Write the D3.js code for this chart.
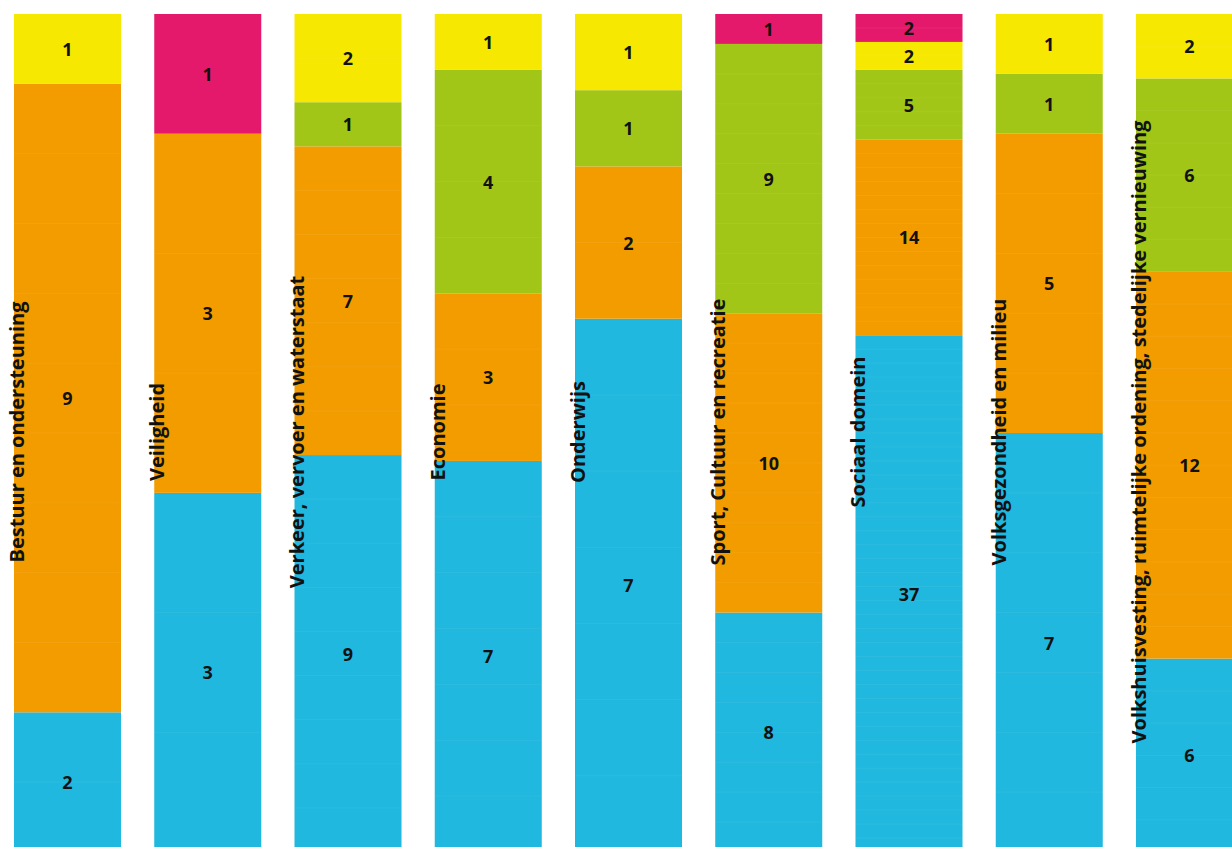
<!DOCTYPE html>
<html>
<head>
<meta charset="utf-8">
<script src="https://cdn.jsdelivr.net/npm/d3@7"></script>
<style>
  html, body { margin: 0; padding: 0; background: #fff; overflow: hidden; }
  svg { display: block; }
  text { font-family: "Open Sans", "Noto Sans", sans-serif; font-weight: 700; fill: #111; }
</style>
</head>
<body>
<svg id="chart" width="1232" height="847"></svg>
<script>
const categories = [
  "Bestuur en ondersteuning",
  "Veiligheid",
  "Verkeer, vervoer en waterstaat",
  "Economie",
  "Onderwijs",
  "Sport, Cultuur en recreatie",
  "Sociaal domein",
  "Volksgezondheid en milieu",
  "Volkshuisvesting, ruimtelijke ordening, stedelijke vernieuwing"
];
const seriesNames = ["blue", "orange", "green", "yellow", "pink"];
const blue   = [2, 3, 9, 7, 7, 8, 37, 7, 6];
const orange = [9, 3, 7, 3, 2, 10, 14, 5, 12];
const green  = [0, 0, 1, 4, 1, 9, 5, 1, 6];
const yellow = [1, 0, 2, 1, 1, 0, 2, 1, 2];
const pink   = [0, 1, 0, 0, 0, 1, 2, 0, 0];
const colors = ["#20B8DE", "#F39C00", "#A2C617", "#F6E800", "#E5196B"];

const seriesValues = [blue, orange, green, yellow, pink];
const table = categories.map((c, i) => {
  const row = { cat: c };
  seriesNames.forEach((s, k) => row[s] = seriesValues[k][i]);
  return row;
});

const svg = d3.select("#chart");
const x = d3.scaleBand().domain(categories).range([14, 1243]).paddingInner(0.237).paddingOuter(0);
const y = d3.scaleLinear().domain([0, 1]).range([852, 14]);
const color = d3.scaleOrdinal().domain(seriesNames).range(colors);

const stacked = d3.stack().keys(seriesNames).offset(d3.stackOffsetExpand)(table);

const layers = svg.append("g").selectAll("g").data(stacked).join("g")
  .attr("fill", d => color(d.key));

// segments
layers.selectAll("rect")
  .data(d => d.map((seg, i) => ({ seg, row: table[i], key: d.key })).filter(o => o.row[o.key] > 0))
  .join("rect")
  .attr("x", o => x(o.row.cat))
  .attr("width", x.bandwidth())
  .attr("y", o => y(o.seg[1]))
  .attr("height", o => y(o.seg[0]) - y(o.seg[1]));

// faint unit separators inside each segment
const sepG = svg.append("g").attr("stroke", "#ffffff").attr("stroke-opacity", 0.06).attr("stroke-width", 1);
stacked.forEach(layer => {
  layer.forEach((seg, i) => {
    const row = table[i];
    const total = seriesNames.reduce((a, s) => a + row[s], 0);
    const n = row[layer.key];
    if (n < 2) return;
    d3.range(1, n).forEach(u => {
      const yy = y(seg[0] + u / total);
      sepG.append("line")
        .attr("x1", x(row.cat)).attr("x2", x(row.cat) + x.bandwidth())
        .attr("y1", yy).attr("y2", yy);
    });
  });
});

// value labels
const labG = svg.append("g");
stacked.forEach(layer => {
  layer.forEach((seg, i) => {
    const row = table[i];
    const n = row[layer.key];
    if (!n) return;
    labG.append("text")
      .attr("x", x(row.cat) + x.bandwidth() / 2)
      .attr("y", (y(seg[0]) + y(seg[1])) / 2)
      .attr("text-anchor", "middle")
      .attr("dominant-baseline", "central")
      .style("font-size", "18px")
      .text(n);
  });
});

// category labels
svg.append("g").selectAll("text").data(categories).join("text")
  .attr("transform", d => `translate(${x(d) + 10},${(y(0) + y(1)) / 2 - 1}) rotate(-90)`)
  .attr("text-anchor", "middle")
  .style("font-size", "20px")
  .style("font-weight", "700")
  .text(d => d);
</script>
</body>
</html>
